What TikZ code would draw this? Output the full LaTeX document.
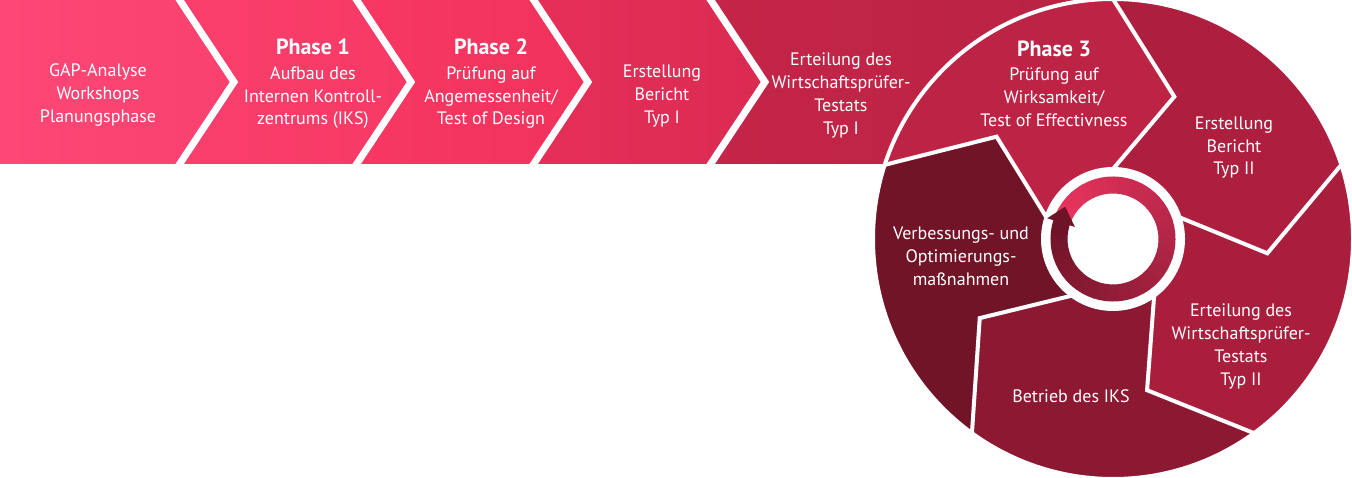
\documentclass[tikz,border=0pt]{standalone}
\usepackage{fontspec}
\setmainfont{PT Sans}
\usetikzlibrary{calc}
\newcommand\phasehd{\bfseries\fontsize{22}{24}\selectfont}
\definecolor{aAl}{HTML}{FF4777}\definecolor{aAr}{HTML}{F9416F}
\definecolor{aBl}{HTML}{FB3F6C}\definecolor{aBr}{HTML}{F63965}
\definecolor{aCl}{HTML}{F83862}\definecolor{aCr}{HTML}{F0325C}
\definecolor{aDl}{HTML}{E62F59}\definecolor{aDr}{HTML}{DA2B53}
\definecolor{aEl}{HTML}{C42548}\definecolor{aEr}{HTML}{B92243}
\definecolor{cPthree}{HTML}{BD2345}
\definecolor{cTtwo}{HTML}{AE1F3F}
\definecolor{cEtwo}{HTML}{AA1E3D}
\definecolor{cBe}{HTML}{8C1832}
\definecolor{cVe}{HTML}{711427}
\definecolor{rBright}{HTML}{EB3560}
\definecolor{rDark}{HTML}{6E1328}
\begin{document}
\begin{tikzpicture}[x=1pt,y=1pt,line join=miter,
  lbl/.style={text=white,align=center,inner sep=0pt,font=\fontsize{18}{22.7}\selectfont},
  sepline/.style={draw=white,line width=7pt},
  csep/.style={draw=white,line width=4pt}]
\useasboundingbox (0,0) rectangle (1352,478);
\coordinate (C) at (1113,239);
% --- arrow row ---
\shade[left color=aAl,right color=aAr] (0,478) -- (177,478) -- (234,396) -- (177,314) -- (0,314) -- cycle;
\shade[left color=aBl,right color=aBr] (177,478) -- (354,478) -- (411,396) -- (354,314) -- (177,314) -- (234,396) -- cycle;
\shade[left color=aCl,right color=aCr] (354,478) -- (531,478) -- (588,396) -- (531,314) -- (354,314) -- (411,396) -- cycle;
\shade[left color=aDl,right color=aDr] (531,478) -- (708,478) -- (765,396) -- (708,314) -- (531,314) -- (588,396) -- cycle;
\shade[left color=aEl,right color=aEr] (708,478) -- (1113,478) -- (1113,314) -- (708,314) -- (765,396) -- cycle;
\foreach \x in {177,354,531,708}
  \draw[sepline] (\x,482) -- ($(\x,396)+(57,0)$) -- (\x,310);
% --- circle segments ---
\begin{scope}
\clip (C) circle (240);
\foreach \a/\col in {162/cPthree,90/cTtwo,18/cEtwo,-54/cBe,-126/cVe}{
  \pgfmathsetmacro\b{\a-72}
  \fill[\col] (C) -- ($(C)+(\a:72)$) -- ($(C)+(\a-23.3:155)$) -- ($(C)+(\a:240)$) -- ($(C)+(\a:300)$)
    -- ($(C)+(\b:300)$) -- ($(C)+(\b:240)$) -- ($(C)+(\b-23.3:155)$) -- ($(C)+(\b:72)$) -- cycle;
}
\foreach \a in {162,90,18,-54,-126}
  \draw[csep] ($(C)+(\a:70)$) -- ($(C)+(\a-23.3:155)$) -- ($(C)+(\a:240)$) -- ($(C)+(\a:260)$);
\end{scope}
\draw[csep] (C) circle (240);
% --- central ring ---
\fill[white] (C) circle (72);
\foreach \i in {0,...,59}{
  \pgfmathsetmacro\sa{162-6*\i}
  \pgfmathsetmacro\ea{\sa-6.6}
  \pgfmathtruncatemacro\p{100-100*\i/59}
  \fill[rBright!\p!rDark] ($(C)+(\sa:62.5)$) arc[start angle=\sa,end angle=\ea,radius=62.5]
    -- ($(C)+(\ea:45.5)$) arc[start angle=\ea,end angle=\sa,radius=45.5] -- cycle;
}
\fill[rDark] ($(C)+(162.5:69)$) -- ($(C)+(146:57.7)$) -- ($(C)+(162.5:40)$) -- cycle;
% --- texts ---
\node[lbl] (t1) at (98,383) {GAP-Analyse\\Workshops\\Planungsphase};
\node[lbl] (t2) at (313,394) {{\phasehd Phase 1}\\[2pt]Aufbau des\\Internen Kontroll-\\zentrums (IKS)};
\node[lbl] (t3) at (491,394) {{\phasehd Phase 2}\\[2pt]Prüfung auf\\Angemessenheit/\\Test of Design};
\node[lbl] (t4) at (662,381.8) {Erstellung\\Bericht\\Typ I};
\node[lbl] (t5) at (841,382.5) {Erteilung des\\Wirtschaftsprüfer-\\Testats\\Typ I};
\node[lbl] (t6) at (1054,394.5) {{\phasehd Phase 3}\\[2pt]Prüfung auf\\Wirksamkeit/\\Test of Effectivness};
\node[lbl] (t7) at (1234,330.3) {Erstellung\\Bericht\\Typ II};
\node[lbl] (t8) at (1241,131.5) {Erteilung des\\Wirtschaftsprüfer-\\Testats\\Typ II};
\node[lbl] (t9) at (1071,82) {Betrieb des IKS};
\node[lbl] (t10) at (961,221.7) {Verbessungs- und\\Optimierungs-\\maßnahmen};
\end{tikzpicture}
\end{document}
